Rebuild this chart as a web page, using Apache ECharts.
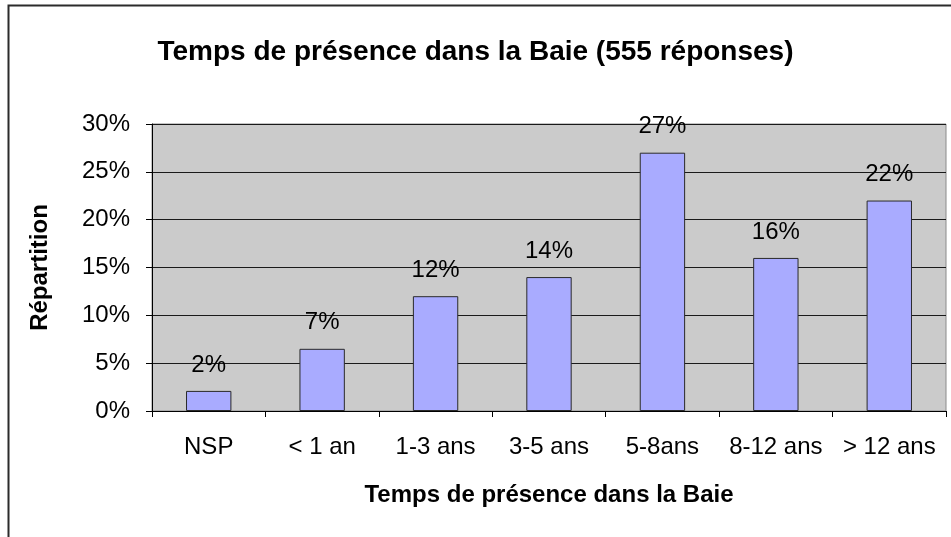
<!DOCTYPE html>
<html>
<head>
<meta charset="utf-8">
<script src="https://cdn.jsdelivr.net/npm/echarts@6/dist/echarts.min.js"></script>
<style>
html,body{margin:0;padding:0;background:#fff;}
#chart{width:951px;height:537px;}
</style>
</head>
<body>
<div id="chart"></div>
<script>
var categories = ['NSP', '< 1 an', '1-3 ans', '3-5 ans', '5-8ans', '8-12 ans', '> 12 ans'];
var values = [2.1, 6.5, 12.0, 14.0, 27.0, 16.0, 22.0];
var yTicks = [0, 5, 10, 15, 20, 25, 30];
var titleText = 'Temps de présence dans la Baie (555 réponses)';
var xName = 'Temps de présence dans la Baie';
var yName = 'Répartition';

var FONT = '"Liberation Sans", Arial, sans-serif';
var chart = echarts.init(document.getElementById('chart'), null, {renderer: 'canvas'});
chart.setOption({
  backgroundColor: '#ffffff',
  animation: false,
  title: {
    text: titleText,
    left: 'center',
    top: 33,
    textStyle: {fontFamily: FONT, fontSize: 28, fontWeight: 'bold', color: '#000'}
  },
  grid: {
    left: 152, right: 5, top: 124, bottom: 126,
    show: true, backgroundColor: '#CBCBCB', borderColor: '#8a8a8a', borderWidth: 1
  },
  xAxis: {
    type: 'category',
    data: categories,
    name: xName,
    nameLocation: 'middle',
    nameGap: 72,
    nameTextStyle: {fontFamily: FONT, fontSize: 24, fontWeight: 'bold', color: '#000'},
    axisLine: {lineStyle: {color: '#000', width: 1}},
    axisTick: {show: true, alignWithLabel: false, length: 6, lineStyle: {color: '#000'}},
    axisLabel: {fontFamily: FONT, fontSize: 24, color: '#000', margin: 24, interval: 0},
    splitLine: {show: false}
  },
  yAxis: {
    type: 'value',
    min: yTicks[0],
    max: yTicks[yTicks.length - 1],
    interval: yTicks[1] - yTicks[0],
    name: yName,
    nameLocation: 'middle',
    nameGap: 100,
    nameTextStyle: {fontFamily: FONT, fontSize: 24, fontWeight: 'bold', color: '#000'},
    axisLine: {show: true, lineStyle: {color: '#000', width: 1}},
    axisTick: {show: true, length: 6, lineStyle: {color: '#000'}},
    axisLabel: {fontFamily: FONT, fontSize: 24, color: '#000', margin: 22, formatter: '{value}%'},
    splitLine: {show: true, lineStyle: {color: '#1a1a1a', width: 1}}
  },
  series: [{
    type: 'bar',
    data: values,
    barWidth: '40%',
    itemStyle: {color: '#A9ABFF', borderColor: '#2a2a2a', borderWidth: 1},
    label: {
      show: true,
      position: 'top',
      distance: 14,
      fontFamily: FONT,
      fontSize: 24,
      color: '#000',
      formatter: function (p) { return Math.round(p.value) + '%'; }
    }
  }],
  graphic: [{
    type: 'polyline',
    silent: true,
    shape: {points: [[8.5, 537], [8.5, 5.5], [951, 5.5]]},
    style: {stroke: '#2b2b2b', lineWidth: 2, fill: null}
  }]
});
</script>
</body>
</html>
